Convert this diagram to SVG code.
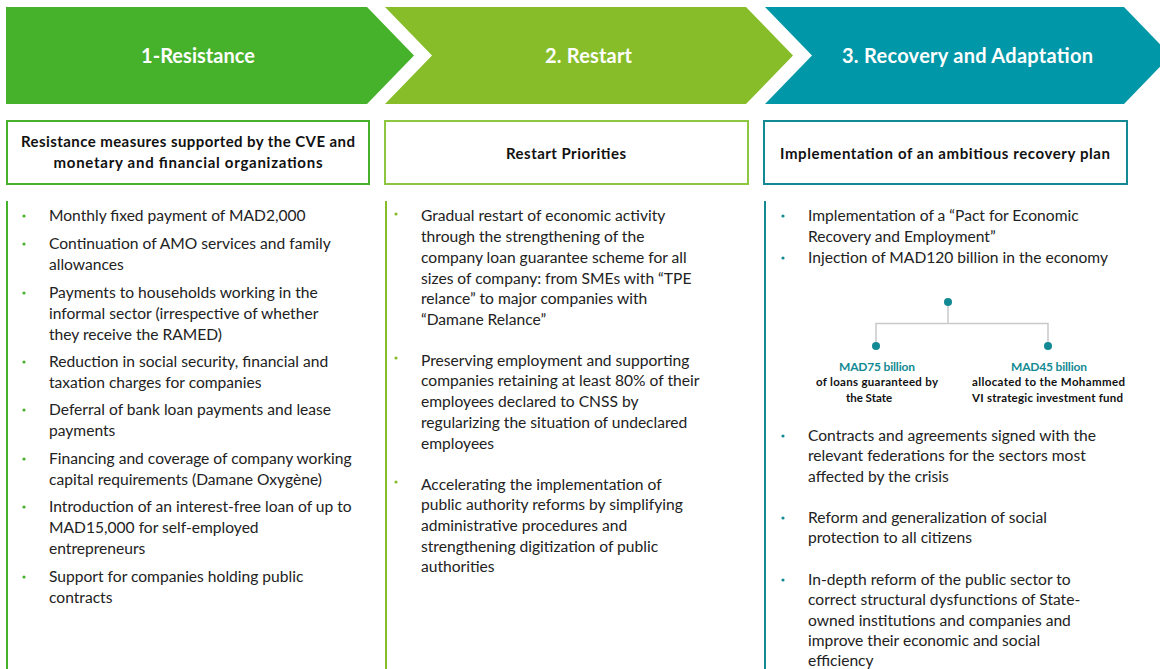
<svg xmlns="http://www.w3.org/2000/svg" width="1160" height="669" viewBox="0 0 1160 669">
<style>
.hdr{font-family:Lato,"Liberation Sans",sans-serif;font-weight:bold;font-size:20px;fill:#fff;text-anchor:middle}
.bh{font-family:Lato,"Liberation Sans",sans-serif;font-weight:bold;font-size:15px;fill:#111;text-anchor:middle}
.t{font-family:Lato,"Liberation Sans",sans-serif;font-size:15.6px;fill:#222}
.s{font-family:Lato,"Liberation Sans",sans-serif;font-weight:bold;font-size:11.5px;fill:#111;text-anchor:middle}
.sv{font-family:Lato,"Liberation Sans",sans-serif;font-weight:bold;font-size:12px;fill:#138a93;text-anchor:middle}
.g1{fill:#46b12b}.g2{fill:#86bd28}.g3{fill:#0097a8}
.box{fill:#fff;stroke-width:2}
.tree{stroke:#c9c9c9;stroke-width:1.5;fill:none}
</style>
<rect width="1160" height="669" fill="#fff"/>
<g id="stage1">
<polygon class="g1" points="6,7 367,7 414,55.5 367,104 6,104"/>
<text class="hdr" x="198" y="63" textLength="114">1-Resistance</text>
</g>
<g id="stage2">
<polygon class="g2" points="385,7 746,7 793,55.5 746,104 385,104 432,55.5"/>
<text class="hdr" x="588.5" y="63" textLength="87">2. Restart</text>
</g>
<g id="stage3">
<polygon class="g3" points="765,7 1124,7 1171,55.5 1124,104 765,104 812,55.5"/>
<text class="hdr" x="967.5" y="63" textLength="251">3. Recovery and Adaptation</text>
</g>
<g id="box1">
<rect class="box" x="7" y="121" width="362" height="63" stroke="#46b12b"/>
<text class="bh" x="188" y="147" textLength="334">Resistance measures supported by the CVE and</text>
<text class="bh" x="188" y="168" textLength="269">monetary and financial organizations</text>
</g>
<g id="box2">
<rect class="box" x="385" y="121" width="363" height="63" stroke="#8dc63f"/>
<text class="bh" x="566" y="159" textLength="120">Restart Priorities</text>
</g>
<g id="box3">
<rect class="box" x="764" y="121" width="363" height="63" stroke="#138a93"/>
<text class="bh" x="945" y="159" textLength="330">Implementation of an ambitious recovery plan</text>
</g>
<g id="panel1">
<rect class="g1" x="6" y="201" width="2" height="468"/>
<g class="g1">
<circle cx="24" cy="216" r="1.6"/><circle cx="24" cy="244" r="1.6"/><circle cx="24" cy="293" r="1.6"/><circle cx="24" cy="362" r="1.6"/><circle cx="24" cy="410" r="1.6"/><circle cx="24" cy="459" r="1.6"/><circle cx="24" cy="507" r="1.6"/><circle cx="24" cy="577" r="1.6"/>
</g>
<text class="t" x="49" y="221">Monthly fixed payment of MAD2,000</text>
<text class="t" x="49" y="249">Continuation of AMO services and family</text>
<text class="t" x="49" y="270">allowances</text>
<text class="t" x="49" y="298">Payments to households working in the</text>
<text class="t" x="49" y="319">informal sector (irrespective of whether</text>
<text class="t" x="49" y="340">they receive the RAMED)</text>
<text class="t" x="49" y="367">Reduction in social security, financial and</text>
<text class="t" x="49" y="388">taxation charges for companies</text>
<text class="t" x="49" y="415">Deferral of bank loan payments and lease</text>
<text class="t" x="49" y="436">payments</text>
<text class="t" x="49" y="464">Financing and coverage of company working</text>
<text class="t" x="49" y="485">capital requirements (Damane Oxygène)</text>
<text class="t" x="49" y="512">Introduction of an interest-free loan of up to</text>
<text class="t" x="49" y="533">MAD15,000 for self-employed</text>
<text class="t" x="49" y="554">entrepreneurs</text>
<text class="t" x="49" y="582">Support for companies holding public</text>
<text class="t" x="49" y="603">contracts</text>
</g>
<g id="panel2">
<rect class="g2" x="385" y="201" width="2" height="468"/>
<g class="g2">
<circle cx="396" cy="214" r="1.6"/><circle cx="396" cy="358" r="1.6"/><circle cx="396" cy="482" r="1.6"/>
</g>
<text class="t" x="421" y="221">Gradual restart of economic activity</text>
<text class="t" x="421" y="242">through the strengthening of the</text>
<text class="t" x="421" y="263">company loan guarantee scheme for all</text>
<text class="t" x="421" y="284">sizes of company: from SMEs with “TPE</text>
<text class="t" x="421" y="304">relance” to major companies with</text>
<text class="t" x="421" y="325">“Damane Relance”</text>
<text class="t" x="421" y="366">Preserving employment and supporting</text>
<text class="t" x="421" y="386">companies retaining at least 80% of their</text>
<text class="t" x="421" y="407">employees declared to CNSS by</text>
<text class="t" x="421" y="428">regularizing the situation of undeclared</text>
<text class="t" x="421" y="449">employees</text>
<text class="t" x="421" y="490">Accelerating the implementation of</text>
<text class="t" x="421" y="510">public authority reforms by simplifying</text>
<text class="t" x="421" y="531">administrative procedures and</text>
<text class="t" x="421" y="552">strengthening digitization of public</text>
<text class="t" x="421" y="572">authorities</text>
</g>
<g id="panel3">
<rect fill="#138a93" x="764" y="201" width="2" height="468"/>
<g fill="#138a93">
<circle cx="783" cy="216" r="1.6"/><circle cx="783" cy="258" r="1.6"/><circle cx="783" cy="436" r="1.6"/><circle cx="783" cy="518" r="1.6"/><circle cx="783" cy="580" r="1.6"/>
</g>
<text class="t" x="808" y="221">Implementation of a “Pact for Economic</text>
<text class="t" x="808" y="242">Recovery and Employment”</text>
<text class="t" x="808" y="263">Injection of MAD120 billion in the economy</text>
<text class="t" x="808" y="441">Contracts and agreements signed with the</text>
<text class="t" x="808" y="461">relevant federations for the sectors most</text>
<text class="t" x="808" y="482">affected by the crisis</text>
<text class="t" x="808" y="523">Reform and generalization of social</text>
<text class="t" x="808" y="543">protection to all citizens</text>
<text class="t" x="808" y="585">In-depth reform of the public sector to</text>
<text class="t" x="808" y="605">correct structural dysfunctions of State-</text>
<text class="t" x="808" y="626">owned institutions and companies and</text>
<text class="t" x="808" y="646">improve their economic and social</text>
<text class="t" x="808" y="666">efficiency</text>
</g>
<g id="connectors">
<path class="tree" d="M948,302 V323.5 M876,346 V323.5 H1048 V346"/>
</g>
<g id="tree-root"><circle cx="948" cy="302" r="4" fill="#138a93"/></g>
<g id="tree-left">
<circle cx="876" cy="346" r="4" fill="#138a93"/>
<text class="sv" x="877" y="371" textLength="76">MAD75 billion</text>
<text class="s" x="877" y="386" textLength="122">of loans guaranteed by</text>
<text class="s" x="869" y="402">the State</text>
</g>
<g id="tree-right">
<circle cx="1048" cy="346" r="4" fill="#138a93"/>
<text class="sv" x="1049" y="371" textLength="76">MAD45 billion</text>
<text class="s" x="1048.5" y="386" textLength="153">allocated to the Mohammed</text>
<text class="s" x="1047.5" y="402" textLength="151">VI strategic investment fund</text>
</g>
</svg>
